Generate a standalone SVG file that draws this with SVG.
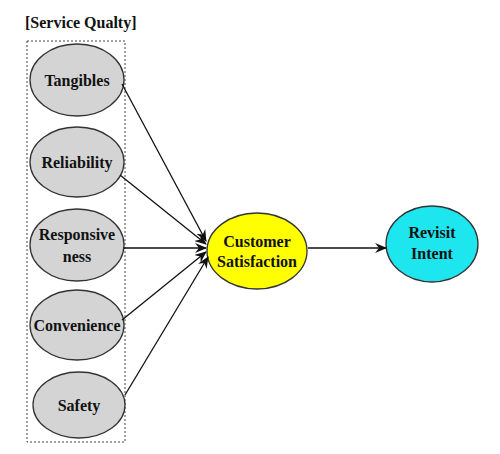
<svg xmlns="http://www.w3.org/2000/svg" width="500" height="454" viewBox="0 0 500 454">
<style>
.t{font-family:"Liberation Serif","DejaVu Serif",serif;font-size:16px;font-weight:bold;fill:#111;text-anchor:middle}
.g{fill:#d4d4d4;stroke:#333;stroke-width:1.3}
.c{stroke:#111;stroke-width:1.3;fill:none;marker-end:url(#ah)}
</style>
<defs>
<marker id="ah" markerWidth="12" markerHeight="10" refX="11" refY="5" orient="auto" markerUnits="userSpaceOnUse">
<path d="M0,0 L12,5 L0,10 L4,5 Z" fill="#111"/>
</marker>
</defs>
<rect width="500" height="454" fill="#fff"/>
<text x="25" y="28" class="t" style="text-anchor:start">[Service Qualty]</text>
<rect x="27" y="41" width="98" height="401" fill="none" stroke="#444" stroke-width="1" stroke-dasharray="2,2"/>
<g id="tangibles"><ellipse class="g" cx="77" cy="80" rx="47" ry="36"/><text class="t" x="77" y="86">Tangibles</text></g>
<g id="reliability"><ellipse class="g" cx="77" cy="162" rx="47" ry="35"/><text class="t" x="77" y="168">Reliability</text></g>
<g id="responsiveness"><ellipse class="g" cx="77" cy="245" rx="47" ry="36"/><text class="t" x="77" y="240">Responsive</text><text class="t" x="77" y="262">ness</text></g>
<g id="convenience"><ellipse class="g" cx="77" cy="325" rx="47" ry="35"/><text class="t" x="77" y="331">Convenience</text></g>
<g id="safety"><ellipse class="g" cx="79" cy="405" rx="46" ry="33"/><text class="t" x="79" y="411">Safety</text></g>
<g id="customer-satisfaction"><ellipse cx="257" cy="251" rx="50" ry="38" fill="#ffff00" stroke="#333" stroke-width="1.3"/><text class="t" x="257" y="247">Customer</text><text class="t" x="257" y="267">Satisfaction</text></g>
<g id="revisit-intent"><ellipse cx="432" cy="244" rx="46" ry="38" fill="#1ee6ee" stroke="#333" stroke-width="1.3"/><text class="t" x="432" y="238">Revisit</text><text class="t" x="432" y="259">Intent</text></g>
<g id="connectors">
<line class="c" x1="122" y1="84" x2="206" y2="241"/>
<line class="c" x1="120" y1="175" x2="206" y2="244"/>
<line class="c" x1="124" y1="248" x2="206" y2="248"/>
<line class="c" x1="122" y1="320" x2="206" y2="252"/>
<line class="c" x1="125" y1="395" x2="208" y2="257"/>
<line class="c" x1="308" y1="248" x2="386" y2="248"/>
</g>
</svg>
